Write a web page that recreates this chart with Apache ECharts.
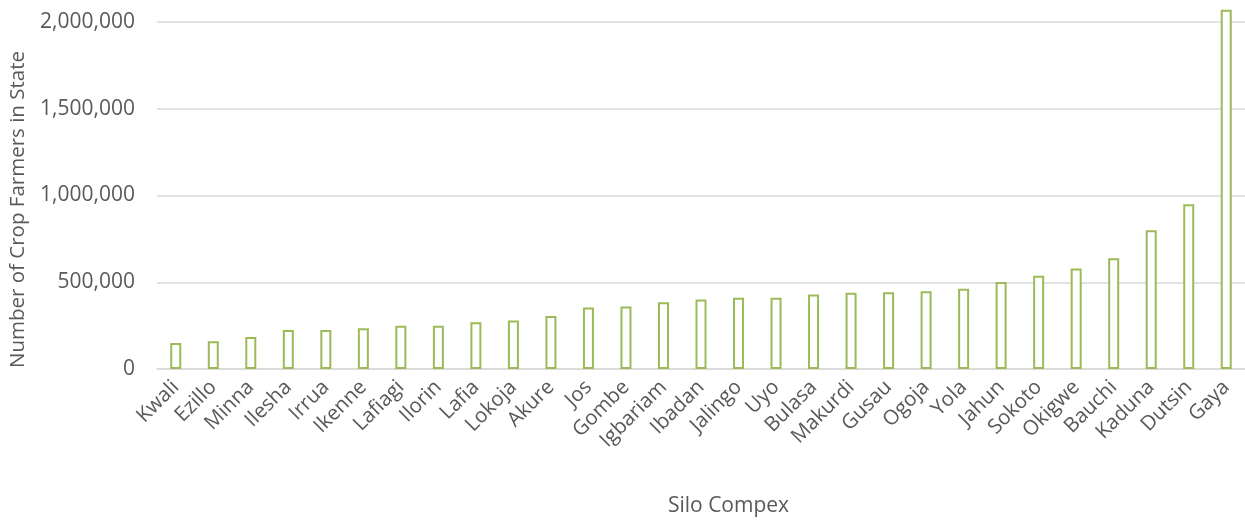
<!DOCTYPE html>
<html>
<head>
<meta charset="utf-8">
<script src="https://cdn.jsdelivr.net/npm/echarts@6/dist/echarts.min.js"></script>
<style>
html,body{margin:0;padding:0;background:#fff;}
#chart{width:1245px;height:524px;}
</style>
</head>
<body>
<div id="chart"></div>
<script>
const categories = ["Kwali","Ezillo","Minna","Ilesha","Irrua","Ikenne","Lafiagi","Ilorin","Lafia","Lokoja","Akure","Jos","Gombe","Igbariam","Ibadan","Jalingo","Uyo","Bulasa","Makurdi","Gusau","Ogoja","Yola","Jahun","Sokoto","Okigwe","Bauchi","Kaduna","Dutsin","Gaya"];
const farmers = [150000,160000,185000,225000,225000,235000,250000,250000,270000,280000,305000,355000,360000,385000,400000,410000,410000,430000,440000,443000,448000,463000,502000,538000,579000,639000,800000,950000,2070000];
const yAxisTitle = "Number of Crop Farmers in State";
const xAxisTitle = "Silo Compex";

const chart = echarts.init(document.getElementById('chart'), null, {renderer:'canvas'});
const font = '"Open Sans", sans-serif';
chart.setOption({
  animation:false,
  grid:{left:155,right:0,top:22,bottom:155},
  xAxis:{
    type:'category',
    data:categories,
    axisLine:{show:true,lineStyle:{color:'#d9d9d9',width:1.5}},
    axisTick:{show:false},
    axisLabel:{rotate:45,color:'#595959',fontFamily:font,fontSize:20.5,margin:15,interval:0,padding:[12,0,0,0]},
    name:xAxisTitle,
    nameLocation:'middle',
    nameGap:127,
    nameTextStyle:{color:'#595959',fontFamily:font,fontSize:21,padding:[0,0,0,55]}
  },
  yAxis:{
    type:'value',
    min:0,max:2000000,interval:500000,
    axisLine:{show:false},
    axisTick:{show:false},
    splitLine:{lineStyle:{color:'#d9d9d9',width:1.5}},
    axisLabel:{color:'#595959',fontFamily:font,fontSize:21,margin:22,
      formatter:v=>v.toLocaleString('en-US')},
    name:yAxisTitle,
    nameLocation:'middle',
    nameGap:128,
    nameRotate:90,
    nameTextStyle:{color:'#595959',fontFamily:font,fontSize:20.5,padding:[0,28,0,0]}
  },
  series:[{
    type:'bar',
    data:farmers,
    clip:false,
    barWidth:11,
    itemStyle:{color:'#ffffff',borderColor:'#9bbb59',borderWidth:2}
  }]
});
</script>
</body>
</html>
